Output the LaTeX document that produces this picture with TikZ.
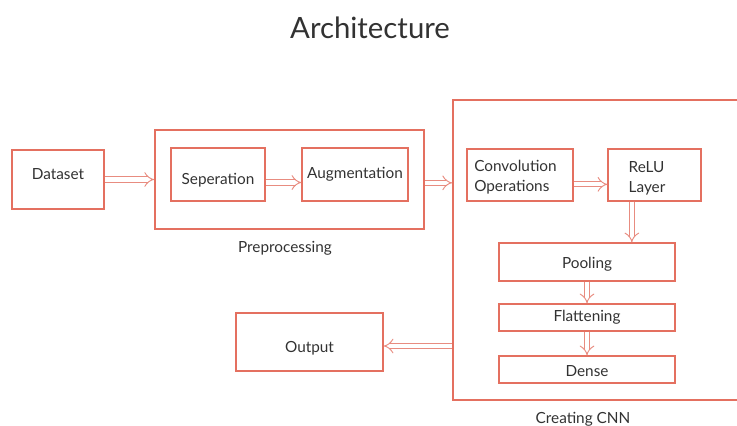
\documentclass[tikz,border=0pt]{standalone}
\usepackage{fontspec}
\setmainfont{Lato}
\usepackage{xcolor}
\usepackage{tikz}
\usetikzlibrary{arrows.meta}
\definecolor{boxred}{RGB}{228, 112, 96}
\definecolor{arrowred}{RGB}{232, 140, 128}
\definecolor{textgray}{RGB}{50, 50, 50}

\begin{document}
\begin{tikzpicture}[x=0.75pt,y=-0.75pt,
  box/.style={draw=boxred,line width=0.9pt},
  outer/.style={draw=boxred,line width=1.3pt},
  txt/.style={font=\fontsize{11.5}{15}\selectfont,text=textgray,inner sep=0pt},
  dbl/.style={draw=arrowred,double=white,double distance=3.2pt,line width=0.7pt,-{Implies[length=4pt]}}]
\clip (0,0) rectangle (737,425);
\node[font=\fontsize{22}{26}\selectfont,text=textgray] (title) at (370,28) {Architecture};
% preprocessing
\node[box,minimum width=69pt,minimum height=44.25pt,label={[txt,yshift=4pt]center:Dataset}] (data) at (58,179.5) {};
\node[outer,minimum width=201.75pt,minimum height=74.25pt] (prep) at (289.5,179.5) {};
\node[box,minimum width=70.5pt,minimum height=39.75pt,label={[txt,yshift=-4.5pt]center:Seperation}] (sep) at (218,174.5) {};
\node[box,minimum width=79.5pt,minimum height=39.75pt,label={[txt,yshift=0.5pt]center:Augmentation}] (aug) at (355,174.5) {};
\node[txt] (preplabel) at (285,248) {Preprocessing};
% cnn
\node[outer,minimum width=225pt,minimum height=225pt] (cnn) at (603,250) {};
\node[box,minimum width=79.5pt,minimum height=39pt,label={[txt,align=left,xshift=-3.4pt,yshift=-1.5pt]center:Convolution\\Operations}] (conv) at (520,175) {};
\node[box,minimum width=69.75pt,minimum height=39pt,label={[txt,align=left,xshift=-5.6pt,yshift=-2.5pt]center:ReLU\\Layer}] (relu) at (654.5,175) {};
\node[box,minimum width=132pt,minimum height=28.5pt,label={[txt,yshift=-1.5pt]center:Pooling}] (pool) at (587,262) {};
\node[box,minimum width=132pt,minimum height=20.25pt,label={[txt]center:Flattening}] (flat) at (587,317.5) {};
\node[box,minimum width=132pt,minimum height=20.25pt,label={[txt,yshift=-1pt]center:Dense}] (dense) at (587,369.5) {};
\node[txt] (cnnlabel) at (583,419) {Creating CNN};
\node[box,minimum width=110.25pt,minimum height=43.5pt,label={[txt,yshift=-4.5pt]center:Output}] (out) at (309.5,342) {};
% arrows
\draw[dbl] (data) -- (prep);
\draw[dbl] ([yshift=-6pt]sep.east) -- ([yshift=-6pt]aug.west);
\draw[dbl] ([yshift=-2.5pt]prep.east) -- ([yshift=-2.5pt]prep.east -| cnn.west);
\draw[dbl] ([yshift=-7pt]conv.east) -- ([yshift=-7pt]relu.west);
\draw[dbl] ([xshift=-17pt]relu.south) -- ([xshift=-17pt]relu.south |- pool.north);
\draw[dbl] (pool) -- (flat);
\draw[dbl] (flat) -- (dense);
\draw[dbl] ([yshift=-3pt]cnn.west |- out.east) -- ([yshift=-3pt]out.east);
\end{tikzpicture}
\end{document}
